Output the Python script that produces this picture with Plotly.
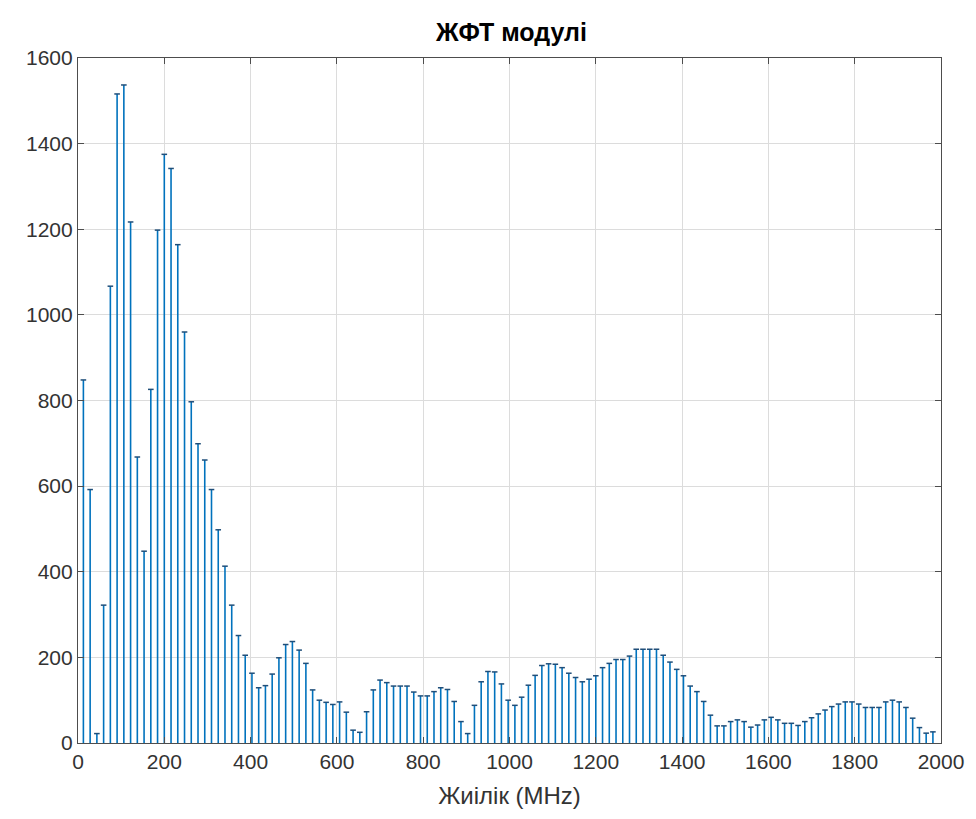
import numpy as np
import plotly.graph_objects as go

# FFT bin frequencies (MHz): evenly spaced bins
bin_step = 15.625
first_bin = 12.5
magnitudes = [
    848, 592, 22, 322, 1067, 1516, 1537, 1217, 668, 448,
    826, 1198, 1375, 1342, 1164, 960, 797, 699, 661, 592,
    498, 413, 322, 251, 205, 163, 129, 134, 161, 199,
    230, 237, 217, 186, 124, 100, 95, 90, 96, 72,
    30, 25, 73, 124, 147, 141, 133, 133, 133, 119,
    110, 110, 120, 129, 125, 97, 50, 22, 88, 143,
    167, 166, 138, 100, 88, 107, 135, 158, 181, 185,
    184, 176, 163, 153, 143, 149, 157, 176, 186, 195,
    195, 203, 219, 219, 219, 219, 205, 189, 172, 157,
    133, 120, 97, 65, 40, 40, 50, 54, 50, 37,
    42, 54, 60, 54, 46, 46, 41, 50, 59, 68,
    77, 85, 91, 96, 96, 91, 83, 83, 83, 96,
    100, 96, 83, 58, 36, 23, 26,
]
freqs = [first_bin + bin_step * i for i in range(len(magnitudes))]

x_ticks = list(range(0, 2001, 200))
y_ticks = list(range(0, 1601, 200))

title_text = "ЖФТ модулі"
x_label = "Жиілік (MHz)"

stem_color = "#0072BD"

# stems as segments from baseline 0 to value
sx, sy = [], []
for f, m in zip(freqs, magnitudes):
    sx += [f, f, None]
    sy += [0, m, None]

fig = go.Figure()
fig.add_trace(go.Scatter(x=sx, y=sy, mode="lines",
                         line=dict(color=stem_color, width=1.6),
                         hoverinfo="skip", showlegend=False))
fig.add_trace(go.Scatter(x=freqs, y=magnitudes, mode="markers",
                         marker=dict(symbol="line-ew", size=4,
                                     line=dict(color="#1f4e79", width=1.5)),
                         showlegend=False))

font_family = "Liberation Sans, Arial, sans-serif"
fig.update_layout(
    width=976, height=819,
    margin=dict(l=78, r=31, t=58, b=76),
    paper_bgcolor="white", plot_bgcolor="white",
    font=dict(family=font_family, color="#333333", size=21),
    title=dict(text="<b>" + title_text + "</b>", x=0.524, xanchor="center",
               y=1 - 32 / 819, yanchor="middle", yref="container",
               font=dict(size=25, color="#000000")),
    xaxis=dict(range=[0, 2000], tickvals=x_ticks, ticks="inside", ticklen=6,
               tickcolor="#4d4d4d", showline=True, linecolor="#4d4d4d",
               linewidth=1.2, mirror="allticks", showgrid=True,
               gridcolor="#dcdcdc", gridwidth=1, zeroline=False,
               tickfont=dict(size=21),
               title=dict(text=x_label, font=dict(size=24), standoff=14)),
    yaxis=dict(range=[0, 1600], tickvals=y_ticks, ticks="inside", ticklen=6,
               tickcolor="#4d4d4d", showline=True, linecolor="#4d4d4d",
               linewidth=1.2, mirror="allticks", showgrid=True,
               gridcolor="#dcdcdc", gridwidth=1, zeroline=False,
               tickfont=dict(size=21)),
)

fig.write_html("out.html")
